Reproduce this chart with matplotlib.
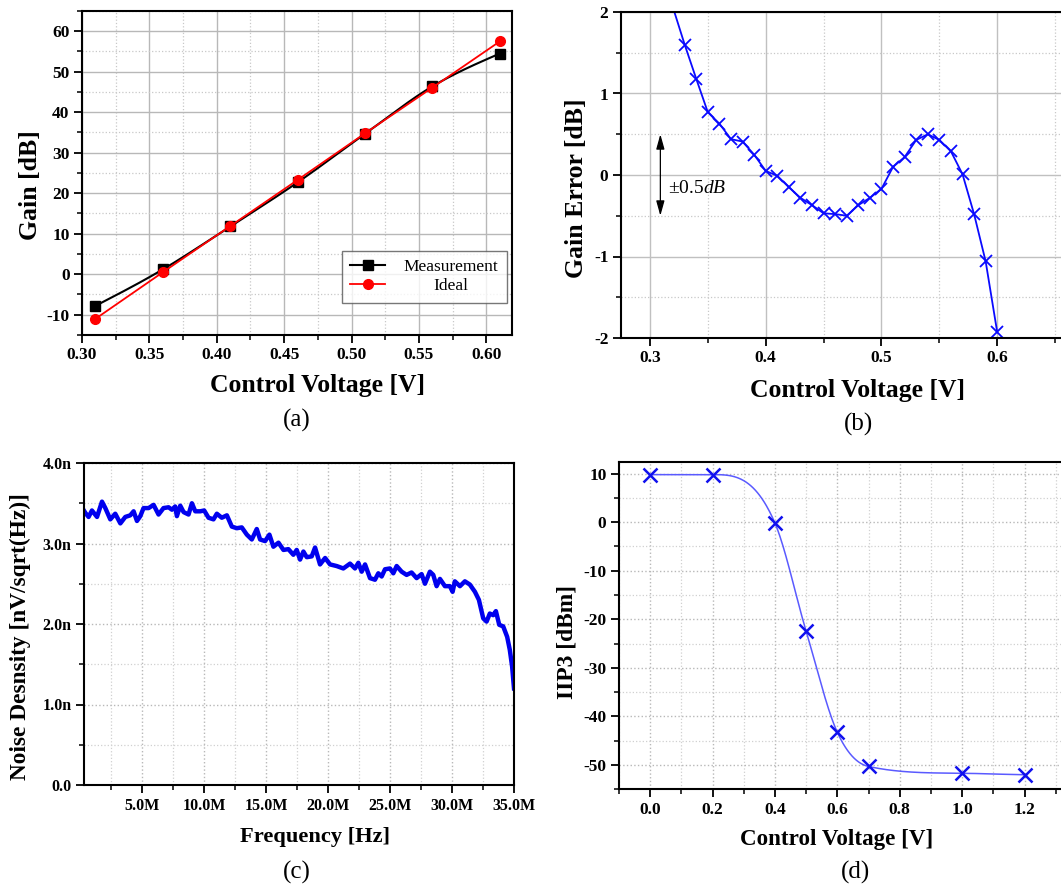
import numpy as np
import matplotlib
matplotlib.use("Agg")
import matplotlib.pyplot as plt
from matplotlib.ticker import MultipleLocator, FixedLocator, FuncFormatter
from matplotlib.lines import Line2D
from matplotlib.transforms import Affine2D

plt.rcParams['font.family'] = ['Liberation Serif', 'DejaVu Serif']
plt.rcParams['mathtext.fontset'] = 'custom'
plt.rcParams['mathtext.rm'] = 'Liberation Serif'
plt.rcParams['mathtext.it'] = 'Liberation Serif:italic'
plt.rcParams['axes.unicode_minus'] = False

# ---------------- data ----------------
# (a) Gain vs control voltage
a_vc = [0.31, 0.36, 0.41, 0.46, 0.51, 0.56, 0.61]
a_meas = [-7.8, 1.2, 11.8, 22.7, 34.7, 46.4, 54.5]
a_ideal = [-11.0, 0.5, 11.9, 23.3, 34.8, 46.1, 57.5]
a_labels = ['Measurement', 'Ideal']

# (b) Gain error vs control voltage
b_vc = [0.32, 0.33, 0.34, 0.35, 0.36, 0.37, 0.38, 0.39, 0.40, 0.41, 0.42, 0.43,
        0.44, 0.45, 0.46, 0.47, 0.48, 0.49, 0.50, 0.51, 0.52, 0.53, 0.54, 0.55,
        0.56, 0.57, 0.58, 0.59, 0.60]
b_err = [2.05, 1.60, 1.18, 0.77, 0.63, 0.44, 0.41, 0.25, 0.05, -0.01, -0.15, -0.28,
         -0.37, -0.47, -0.48, -0.50, -0.37, -0.28, -0.17, 0.10, 0.22, 0.43, 0.50, 0.43,
         0.29, 0.01, -0.48, -1.06, -1.93]

# (c) Noise density vs frequency (MHz, nV/sqrt(Hz))
c_freq = [0.36, 0.44, 0.70, 0.97, 1.38, 1.78, 2.05, 2.45, 2.85, 3.26, 3.66, 4.06,
          4.33, 4.60, 4.87, 5.13, 5.54, 5.94, 6.34, 6.74, 7.15, 7.42, 7.68, 7.82,
          8.09, 8.36, 8.76, 9.03, 9.30, 9.70, 10.02, 10.37, 10.77, 11.04, 11.44, 11.85,
          12.25, 12.65, 13.05, 13.46, 13.86, 14.26, 14.53, 14.93, 15.28, 15.60, 16.01, 16.41,
          16.81, 17.21, 17.48, 17.75, 18.02, 18.29, 18.69, 18.96, 19.36, 19.77, 20.17, 20.70,
          21.24, 21.78, 22.18, 22.45, 22.72, 22.99, 23.39, 23.79, 24.06, 24.33, 24.60, 25.00,
          25.27, 25.54, 25.94, 26.34, 26.74, 27.15, 27.55, 27.82, 28.22, 28.49, 28.76, 29.03,
          29.43, 29.83, 30.05, 30.23, 30.64, 31.04, 31.44, 31.85, 32.17, 32.52, 32.79, 33.05,
          33.32, 33.54, 33.81, 34.13, 34.45, 34.66, 34.85, 35.00]
c_noise = [3.40, 3.38, 3.33, 3.41, 3.33, 3.52, 3.44, 3.30, 3.37, 3.25, 3.33, 3.35,
           3.40, 3.28, 3.34, 3.44, 3.44, 3.48, 3.36, 3.44, 3.45, 3.42, 3.46, 3.34,
           3.47, 3.39, 3.36, 3.50, 3.40, 3.40, 3.41, 3.32, 3.30, 3.37, 3.32, 3.35,
           3.21, 3.19, 3.20, 3.11, 3.05, 3.18, 3.05, 3.03, 3.11, 2.96, 3.01, 2.92,
           2.93, 2.86, 2.92, 2.80, 2.90, 2.83, 2.84, 2.95, 2.74, 2.82, 2.74, 2.72,
           2.69, 2.75, 2.69, 2.76, 2.65, 2.74, 2.57, 2.55, 2.63, 2.59, 2.68, 2.69,
           2.63, 2.72, 2.65, 2.61, 2.64, 2.57, 2.62, 2.50, 2.65, 2.61, 2.47, 2.56,
           2.47, 2.47, 2.40, 2.53, 2.47, 2.53, 2.49, 2.40, 2.30, 2.07, 2.03, 2.13,
           2.11, 2.16, 1.99, 1.97, 1.84, 1.68, 1.47, 1.20]
c_xticks = [5, 10, 15, 20, 25, 30, 35]

# (d) IIP3 vs control voltage
d_vc = [0.0, 0.2, 0.4, 0.5, 0.6, 0.7, 1.0, 1.2]
d_iip3 = [9.8, 9.8, -0.2, -22.5, -43.3, -50.3, -51.7, -52.0]
d_xticks = [0.0, 0.2, 0.4, 0.6, 0.8, 1.0, 1.2]


def smooth(x, y, n=500):
    """Monotone cubic Hermite connector through the data points."""
    x = np.asarray(x, float)
    y = np.asarray(y, float)
    h = np.diff(x)
    d = np.diff(y) / h
    m = np.zeros_like(y)
    for i in range(1, len(x) - 1):
        if d[i - 1] * d[i] > 0:
            m[i] = (h[i] * d[i - 1] + h[i - 1] * d[i]) / (h[i - 1] + h[i])
    m[0] = (3 * d[0] - m[1]) / 2
    if m[0] * d[0] <= 0:
        m[0] = 0
    m[-1] = (3 * d[-1] - m[-2]) / 2
    if m[-1] * d[-1] <= 0:
        m[-1] = 0
    for k in range(len(d)):
        if d[k] == 0:
            m[k] = m[k + 1] = 0
        else:
            a, b = m[k] / d[k], m[k + 1] / d[k]
            s = a * a + b * b
            if s > 9:
                t = 3 / np.sqrt(s)
                m[k] = t * a * d[k]
                m[k + 1] = t * b * d[k]
    xs = np.linspace(x[0], x[-1], n)
    idx = np.clip(np.searchsorted(x, xs) - 1, 0, len(x) - 2)
    t = (xs - x[idx]) / h[idx]
    h00 = 2 * t**3 - 3 * t**2 + 1
    h10 = t**3 - 2 * t**2 + t
    h01 = -2 * t**3 + 3 * t**2
    h11 = t**3 - t**2
    ys = h00 * y[idx] + h10 * h[idx] * m[idx] + h01 * y[idx + 1] + h11 * h[idx] * m[idx + 1]
    return xs, ys


W, H = 1061, 890
fig = plt.figure(figsize=(W / 100, H / 100), dpi=100)


def rect(l, r, t, b):
    return [l / W, 1 - b / H, (r - l) / W, (b - t) / H]


CAP_FS = 18


def style(ax, tick_fs):
    for s in ax.spines.values():
        s.set_linewidth(1.5)
    ax.tick_params(which='major', direction='out', length=6, width=1.3,
                   labelsize=tick_fs, top=False, right=False, pad=3)
    ax.tick_params(which='minor', direction='out', length=3.5, width=1.1,
                   top=False, right=False)
    for lab in ax.get_xticklabels() + ax.get_yticklabels():
        lab.set_fontweight('bold')
    ax.set_axisbelow(True)


def labels(ax, xl, yl, fsx, fsy, xc, yc):
    ax.set_xlabel(xl, fontsize=fsx, fontweight='bold')
    ax.set_ylabel(yl, fontsize=fsy, fontweight='bold')
    ax.xaxis.set_label_coords(*xc)
    ax.yaxis.set_label_coords(*yc)
    ax.xaxis.label.set_va('center')
    ax.yaxis.label.set_va('center')


# ---------- (a) ----------
ax = fig.add_axes(rect(82, 512, 11, 335))
ax.set_xlim(0.30, 0.619)
ax.set_ylim(-15, 65)
ax.xaxis.set_major_locator(MultipleLocator(0.05))
ax.xaxis.set_minor_locator(MultipleLocator(0.025))
ax.yaxis.set_major_locator(MultipleLocator(10))
ax.yaxis.set_minor_locator(MultipleLocator(5))
ax.xaxis.set_major_formatter(FuncFormatter(lambda v, p: f"{v:.2f}"))
ax.yaxis.set_major_formatter(FuncFormatter(lambda v, p: f"{v:.0f}"))
ax.grid(which='major', color='#b8b8b8', lw=1.0, ls='-')
ax.grid(which='minor', color='#c8c8c8', lw=0.9, ls=':')
xs, ys = smooth(a_vc, a_meas)
ax.plot(xs, ys, color='black', lw=1.5)
ax.plot(a_vc, a_meas, ls='none', marker='s', ms=6.5, color='black')
ax.plot(a_vc, a_ideal, color='#ff0000', lw=1.3, marker='o', ms=7)
h1 = Line2D([], [], color='black', lw=1.5, marker='s', ms=6.5)
h2 = Line2D([], [], color='#ff0000', lw=1.3, marker='o', ms=7)
leg = ax.legend([h1, h2], a_labels, loc='lower right',
                bbox_to_anchor=(0.988, 0.099), borderaxespad=0, fontsize=12.5,
                frameon=True, fancybox=False, edgecolor='#555555', handlelength=2.0,
                borderpad=0.5, labelspacing=0.15, handletextpad=1.05)
leg.get_frame().set_linewidth(1.0)
# centre the shorter label under the longer one
t2 = leg.get_texts()[1]
t2.set_transform(t2.get_transform() + Affine2D().translate(30, 0))
style(ax, 12.5)
labels(ax, 'Control Voltage [V]', 'Gain [dB]', 18.5, 18.5,
       ((317 - 82) / 430, (335 - 386) / 324), ((30 - 82) / 430, (335 - 185) / 324))

# ---------- (b) ----------
ax = fig.add_axes(rect(621, 1113, 12, 338))
ax.set_xlim(0.275, 0.70)
ax.set_ylim(-2, 2)
ax.xaxis.set_major_locator(FixedLocator([0.3, 0.4, 0.5, 0.6]))
ax.xaxis.set_minor_locator(MultipleLocator(0.05))
ax.yaxis.set_major_locator(MultipleLocator(1))
ax.yaxis.set_minor_locator(MultipleLocator(0.5))
ax.xaxis.set_major_formatter(FuncFormatter(lambda v, p: f"{v:.1f}"))
ax.yaxis.set_major_formatter(FuncFormatter(lambda v, p: f"{v:.0f}"))
ax.grid(which='major', color='#c0c0c0', lw=1.0, ls='-')
ax.grid(which='minor', color='#c8c8c8', lw=0.9, ls=':')
ax.plot(b_vc, b_err, color='#0a0aff', lw=1.3, marker='x', ms=9, mew=1.3,
        markevery=list(range(1, len(b_vc))))
ax.annotate('', xy=(0.309, 0.5), xytext=(0.309, -0.5),
            arrowprops=dict(arrowstyle='<|-|>,head_length=0.9,head_width=0.25',
                            color='black', lw=0.9, shrinkA=0, shrinkB=0))
ax.text(0.316, -0.17, r'±0.5$\mathit{dB}$', fontsize=14, va='center', ha='left')
style(ax, 12.5)
labels(ax, 'Control Voltage [V]', 'Gain Error [dB]', 18.5, 18.5,
       ((857 - 621) / 492, (338 - 390) / 326), ((577 - 621) / 492, (338 - 188) / 326))

# ---------- (c) ----------
ax = fig.add_axes(rect(84, 514, 463, 785))
ax.set_xlim(0.33, 35.0)
ax.set_ylim(0, 4.0)
ax.xaxis.set_major_locator(FixedLocator(c_xticks))
ax.xaxis.set_minor_locator(MultipleLocator(2.5))
ax.yaxis.set_major_locator(MultipleLocator(1))
ax.yaxis.set_minor_locator(MultipleLocator(0.5))
ax.xaxis.set_major_formatter(FuncFormatter(lambda v, p: f"{v:.1f}M"))
ax.yaxis.set_major_formatter(FuncFormatter(lambda v, p: "0.0" if v == 0 else f"{v:.1f}n"))
ax.grid(which='major', color='#b8b8b8', lw=1.0, ls=':')
ax.grid(which='minor', color='#d0d0d0', lw=0.9, ls=':')
ax.plot(c_freq, c_noise, color='#0000ee', lw=3.2, solid_joinstyle='round')
style(ax, 11.5)
labels(ax, 'Frequency [Hz]', 'Noise Desnsity [nV/sqrt(Hz)]', 16.2, 16.8,
       ((315 - 84) / 430, (785 - 837) / 322), ((20 - 84) / 430, (785 - 637) / 322))

# ---------- (d) ----------
ax = fig.add_axes(rect(619, 1087, 462, 789.3))
ax.set_xlim(-0.1, 1.4)
ax.set_ylim(-55, 12.4)
ax.xaxis.set_major_locator(FixedLocator(d_xticks))
ax.xaxis.set_minor_locator(MultipleLocator(0.1))
ax.yaxis.set_major_locator(MultipleLocator(10))
ax.yaxis.set_minor_locator(MultipleLocator(5))
ax.xaxis.set_major_formatter(FuncFormatter(lambda v, p: f"{v:.1f}"))
ax.yaxis.set_major_formatter(FuncFormatter(lambda v, p: f"{v:.0f}"))
ax.grid(which='major', color='#b8b8b8', lw=1.0, ls=':')
ax.grid(which='minor', color='#d0d0d0', lw=0.9, ls=':')
xs, ys = smooth(d_vc, d_iip3)
ax.plot(xs, ys, color='#5a5aff', lw=1.1)
ax.plot(d_vc, d_iip3, ls='none', marker='x', ms=10, mew=1.8, color='#1010ee')
style(ax, 12.5)
labels(ax, 'Control Voltage [V]', 'IIP3 [dBm]', 16.6, 16.9,
       ((837 - 619) / 468, (789.3 - 840) / 327.3), ((567 - 619) / 468, (789.3 - 642) / 327.3))

# captions
fig.text(297 / W, 1 - 420 / H, '(a)', fontsize=CAP_FS, ha='center', va='center')
fig.text(858 / W, 1 - 424 / H, '(b)', fontsize=CAP_FS, ha='center', va='center')
fig.text(297 / W, 1 - 872 / H, '(c)', fontsize=CAP_FS, ha='center', va='center')
fig.text(855 / W, 1 - 872 / H, '(d)', fontsize=CAP_FS, ha='center', va='center')

fig.savefig('out.png', dpi=100)
